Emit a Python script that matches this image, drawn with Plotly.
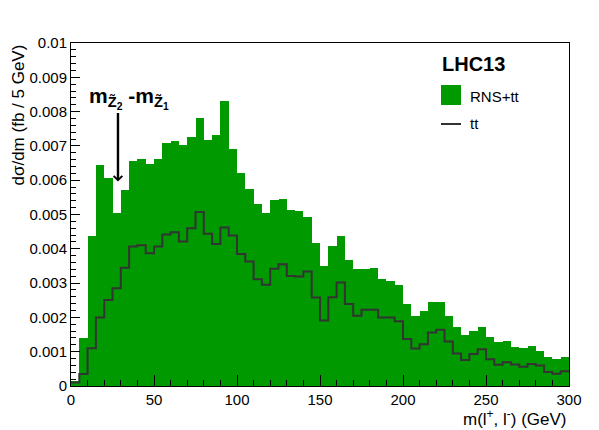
import numpy as np
import plotly.graph_objects as go

# ---- data (5 GeV bins from 0 to 300 GeV) ----
bin_width = 5
bin_edges = list(range(0, 305, 5))

rns_tt = [0.00015, 0.00140, 0.00436, 0.00643, 0.00606, 0.00505, 0.00572, 0.00655, 0.00663, 0.00647,
          0.00662, 0.00709, 0.00713, 0.00702, 0.00725, 0.00782, 0.00718, 0.00731, 0.00830, 0.00691,
          0.00622, 0.00574, 0.00530, 0.00504, 0.00543, 0.00545, 0.00512, 0.00509, 0.00494, 0.00418,
          0.00351, 0.00407, 0.00438, 0.00368, 0.00341, 0.00340, 0.00344, 0.00313, 0.00307, 0.00294,
          0.00239, 0.00204, 0.00220, 0.00244, 0.00246, 0.00204, 0.00171, 0.00148, 0.00160, 0.00171,
          0.00142, 0.00128, 0.00130, 0.00115, 0.00112, 0.00116, 0.00102, 0.00084, 0.00080, 0.00086]

tt = [0.00010, 0.00035, 0.00110, 0.00200, 0.00251, 0.00285, 0.00345, 0.00407, 0.00410, 0.00387,
      0.00407, 0.00442, 0.00448, 0.00421, 0.00460, 0.00507, 0.00444, 0.00414, 0.00462, 0.00439,
      0.00385, 0.00363, 0.00311, 0.00295, 0.00342, 0.00355, 0.00321, 0.00319, 0.00334, 0.00258,
      0.00191, 0.00259, 0.00302, 0.00239, 0.00205, 0.00222, 0.00222, 0.00200, 0.00200, 0.00189,
      0.00137, 0.00109, 0.00122, 0.00156, 0.00164, 0.00130, 0.00095, 0.00076, 0.00093, 0.00107,
      0.00078, 0.00062, 0.00069, 0.00063, 0.00056, 0.00064, 0.00060, 0.00041, 0.00036, 0.00043]

y_tickvals = [0, 0.001, 0.002, 0.003, 0.004, 0.005, 0.006, 0.007, 0.008, 0.009, 0.01]
y_ticktext = ["0", "0.001", "0.002", "0.003", "0.004", "0.005", "0.006", "0.007", "0.008", "0.009", "0.01"]
x_tickvals = [0, 50, 100, 150, 200, 250, 300]
x_ticktext = ["0", "50", "100", "150", "200", "250", "300"]

GREEN = "#009900"
LINE = "#333333"
FONT = "Liberation Sans, Arial, Helvetica, sans-serif"

centers = [e + bin_width / 2 for e in bin_edges[:-1]]

fig = go.Figure()
fig.add_trace(go.Bar(x=centers, y=rns_tt, width=bin_width, marker=dict(color=GREEN, line=dict(width=0)),
                     name="RNS+tt", showlegend=False))
fig.add_trace(go.Scatter(x=bin_edges, y=tt + [tt[-1]], mode="lines", line=dict(color=LINE, width=2, shape="hv"),
                         name="tt", showlegend=False))

W, H = 599, 430
L, R, T, B = 71, 30, 43, 44
pw, ph = W - L - R, H - T - B

def px(xp):
    return (xp - L) / pw

def py(yp):
    return (H - B - yp) / ph

fig.update_layout(
    width=W, height=H,
    margin=dict(l=L, r=R, t=T, b=B),
    paper_bgcolor="white", plot_bgcolor="white",
    bargap=0,
    font=dict(family=FONT, size=15, color="black"),
    xaxis=dict(range=[0, 300], tickvals=x_tickvals, ticktext=x_ticktext, ticks="inside", ticklen=11,
               tickcolor="black", tickwidth=1, showline=True, linecolor="black", linewidth=1, mirror=True,
               showgrid=False, zeroline=False,
               minor=dict(dtick=10, tick0=0, ticks="inside", ticklen=6, tickcolor="black", showgrid=False)),
    yaxis=dict(range=[0, 0.01], tickvals=y_tickvals, ticktext=y_ticktext, ticks="inside", ticklen=9,
               tickcolor="black", tickwidth=1, showline=True, linecolor="black", linewidth=1, mirror=True,
               showgrid=False, zeroline=False,
               minor=dict(dtick=0.0002, tick0=0, ticks="inside", ticklen=5, tickcolor="black", showgrid=False)),
)

annotations = [
    # axis titles
    dict(text="dσ/dm (fb / 5 GeV)", xref="paper", yref="paper", x=px(18), y=py(43), xanchor="center",
         yanchor="top", textangle=-90, showarrow=False, font=dict(size=17)),
    dict(text="m(l<sup>+</sup>, l<sup>-</sup>) (GeV)", xref="paper", yref="paper", x=px(569), y=py(418),
         xanchor="right", yanchor="middle", showarrow=False, font=dict(size=17)),
    # legend
    dict(text="<b>LHC13</b>", xref="paper", yref="paper", x=px(440), y=py(64), xanchor="left",
         yanchor="middle", showarrow=False, font=dict(size=20)),
    dict(text="RNS+tt", xref="paper", yref="paper", x=px(468), y=py(96), xanchor="left",
         yanchor="middle", showarrow=False, font=dict(size=15)),
    dict(text="tt", xref="paper", yref="paper", x=px(468), y=py(124), xanchor="left",
         yanchor="middle", showarrow=False, font=dict(size=15)),
    # label + arrow
    dict(text="<b>m<sub>Z̃<sub>2</sub></sub> -m<sub>Z̃<sub>1</sub></sub></b>", xref="paper", yref="paper",
         x=px(87), y=py(98), xanchor="left", yanchor="middle", showarrow=False, font=dict(size=21)),
    dict(text="", x=28.3, y=0.00596, ax=28.3, ay=0.0080, xref="x", yref="y", axref="x", ayref="y",
         showarrow=True, arrowhead=4, arrowsize=0.7, arrowwidth=2.4, arrowcolor="black"),
]
fig.update_layout(annotations=annotations)

fig.update_layout(shapes=[
    dict(type="rect", xref="paper", yref="paper", x0=px(441), x1=px(461), y0=py(105), y1=py(85),
         fillcolor=GREEN, line=dict(width=0)),
    dict(type="line", xref="paper", yref="paper", x0=px(441), x1=px(461), y0=py(124), y1=py(124),
         line=dict(color=LINE, width=2)),
])

fig.write_html("out.html", config={"displayModeBar": False},
               post_script="document.body.style.margin='0';document.body.style.overflow='hidden';")
